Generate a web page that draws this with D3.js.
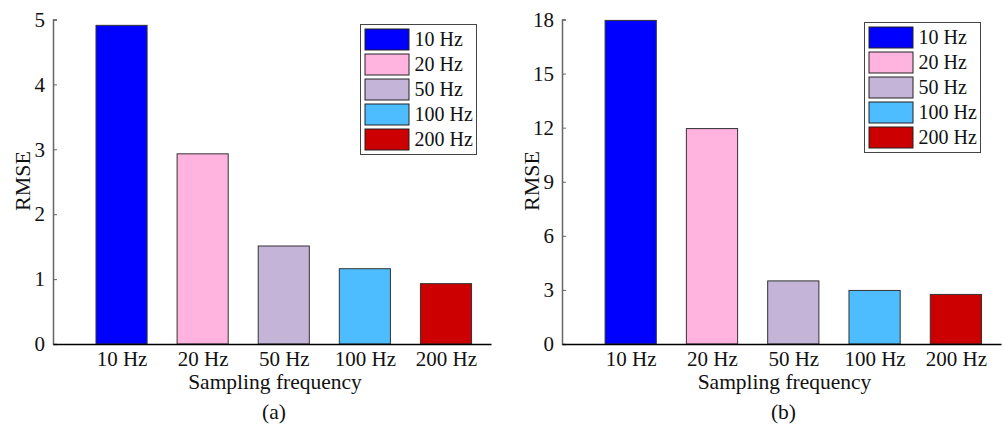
<!DOCTYPE html>
<html>
<head>
<meta charset="utf-8">
<script src="https://cdn.jsdelivr.net/npm/d3@7"></script>
<style>
  body { margin: 0; background: #fff; }
</style>
</head>
<body>
<svg id="chart" width="1003" height="430"></svg>
<script>
var categorias = ['10 Hz', '20 Hz', '50 Hz', '100 Hz', '200 Hz'];
var cores = ['#0000ff', '#ffb3de', '#c4b4d8', '#4dbdff', '#cc0000'];
var rmseA = [4.91, 2.93, 1.51, 1.16, 0.93];
var rmseB = [17.95, 11.95, 3.5, 2.97, 2.75];
var ticksA = [0, 1, 2, 3, 4, 5];
var ticksB = [0, 3, 6, 9, 12, 15, 18];

function painel(p) {
  var svg = d3.select('#chart');
  var g = svg.append('g');

  var x = d3.scaleLinear().domain([0.155, 5.555]).range([p.esquerda, p.direita]);
  var y = d3.scaleLinear().domain([0, p.max]).range([344, 19.5]);
  var larg = x(1.63) - x(1);

  g.selectAll('.barra')
    .data(p.dados)
    .enter()
      .append('rect')
      .attr('x', (d, i) => x(i + 1) - larg / 2)
      .attr('y', d => y(d))
      .attr('width', larg)
      .attr('height', d => y(0) - y(d))
      .attr('fill', (d, i) => cores[i])
      .attr('stroke', '#333')
      .attr('stroke-width', 1);

  // eixo y
  var eixoY = g.append('g')
    .attr('transform', 'translate(' + p.esquerda + ',0)')
    .call(d3.axisLeft(y).tickValues(p.ticks).tickSize(-4).tickPadding(8).tickFormat(d3.format('d')));
  eixoY.select('.domain').attr('stroke', '#666').attr('stroke-width', 1.5);
  eixoY.selectAll('.tick line').attr('stroke', '#666');
  eixoY.selectAll('text').attr('font-size', 21);

  // eixo x
  var eixoX = g.append('g')
    .attr('transform', 'translate(0,' + y(0) + ')')
    .call(d3.axisBottom(x).tickValues([1, 2, 3, 4, 5]).tickSize(0).tickPadding(7)
      .tickFormat((d, i) => categorias[i]));
  eixoX.select('.domain').attr('stroke', '#000').attr('stroke-width', 1.5);
  eixoX.selectAll('text').attr('font-size', 21);

  g.append('text')
    .attr('x', (p.esquerda + p.direita) / 2 + 3)
    .attr('y', 389)
    .attr('text-anchor', 'middle')
    .attr('font-size', 21.5)
    .text('Sampling frequency');

  g.append('text')
    .attr('transform', 'translate(' + (p.esquerda - 23) + ',' + 181 + ') rotate(-90)')
    .attr('text-anchor', 'middle')
    .attr('font-size', 22)
    .text('RMSE');

  g.append('text')
    .attr('x', (p.esquerda + p.direita) / 2 + 2)
    .attr('y', 419)
    .attr('text-anchor', 'middle')
    .attr('font-size', 21.5)
    .text(p.rotulo);

  // legenda
  var leg = g.append('g').attr('transform', 'translate(' + p.legX + ',' + p.legY + ')');
  leg.append('rect')
    .attr('width', 116).attr('height', 130)
    .attr('fill', '#fff').attr('stroke', '#444');
  leg.selectAll('.item')
    .data(categorias)
    .enter()
      .append('rect')
      .attr('x', 4.5)
      .attr('y', (d, i) => 4.5 + i * 25)
      .attr('width', 44)
      .attr('height', 21)
      .attr('fill', (d, i) => cores[i])
      .attr('stroke', '#222');
  leg.selectAll('.rotulo')
    .data(categorias)
    .enter()
      .append('text')
      .attr('x', 54)
      .attr('y', (d, i) => 21.5 + i * 25)
      .attr('font-size', 20)
      .text(d => d);
}

painel({ dados: rmseA, max: 5, ticks: ticksA, esquerda: 53, direita: 491, rotulo: '(a)', legX: 360.5, legY: 24.5 });
painel({ dados: rmseB, max: 18, ticks: ticksB, esquerda: 562, direita: 1001, rotulo: '(b)', legX: 864.5, legY: 22.5 });

d3.selectAll('#chart text')
  .attr('font-family', "'Liberation Serif'")
  .attr('fill', '#111');
</script>
</body>
</html>
